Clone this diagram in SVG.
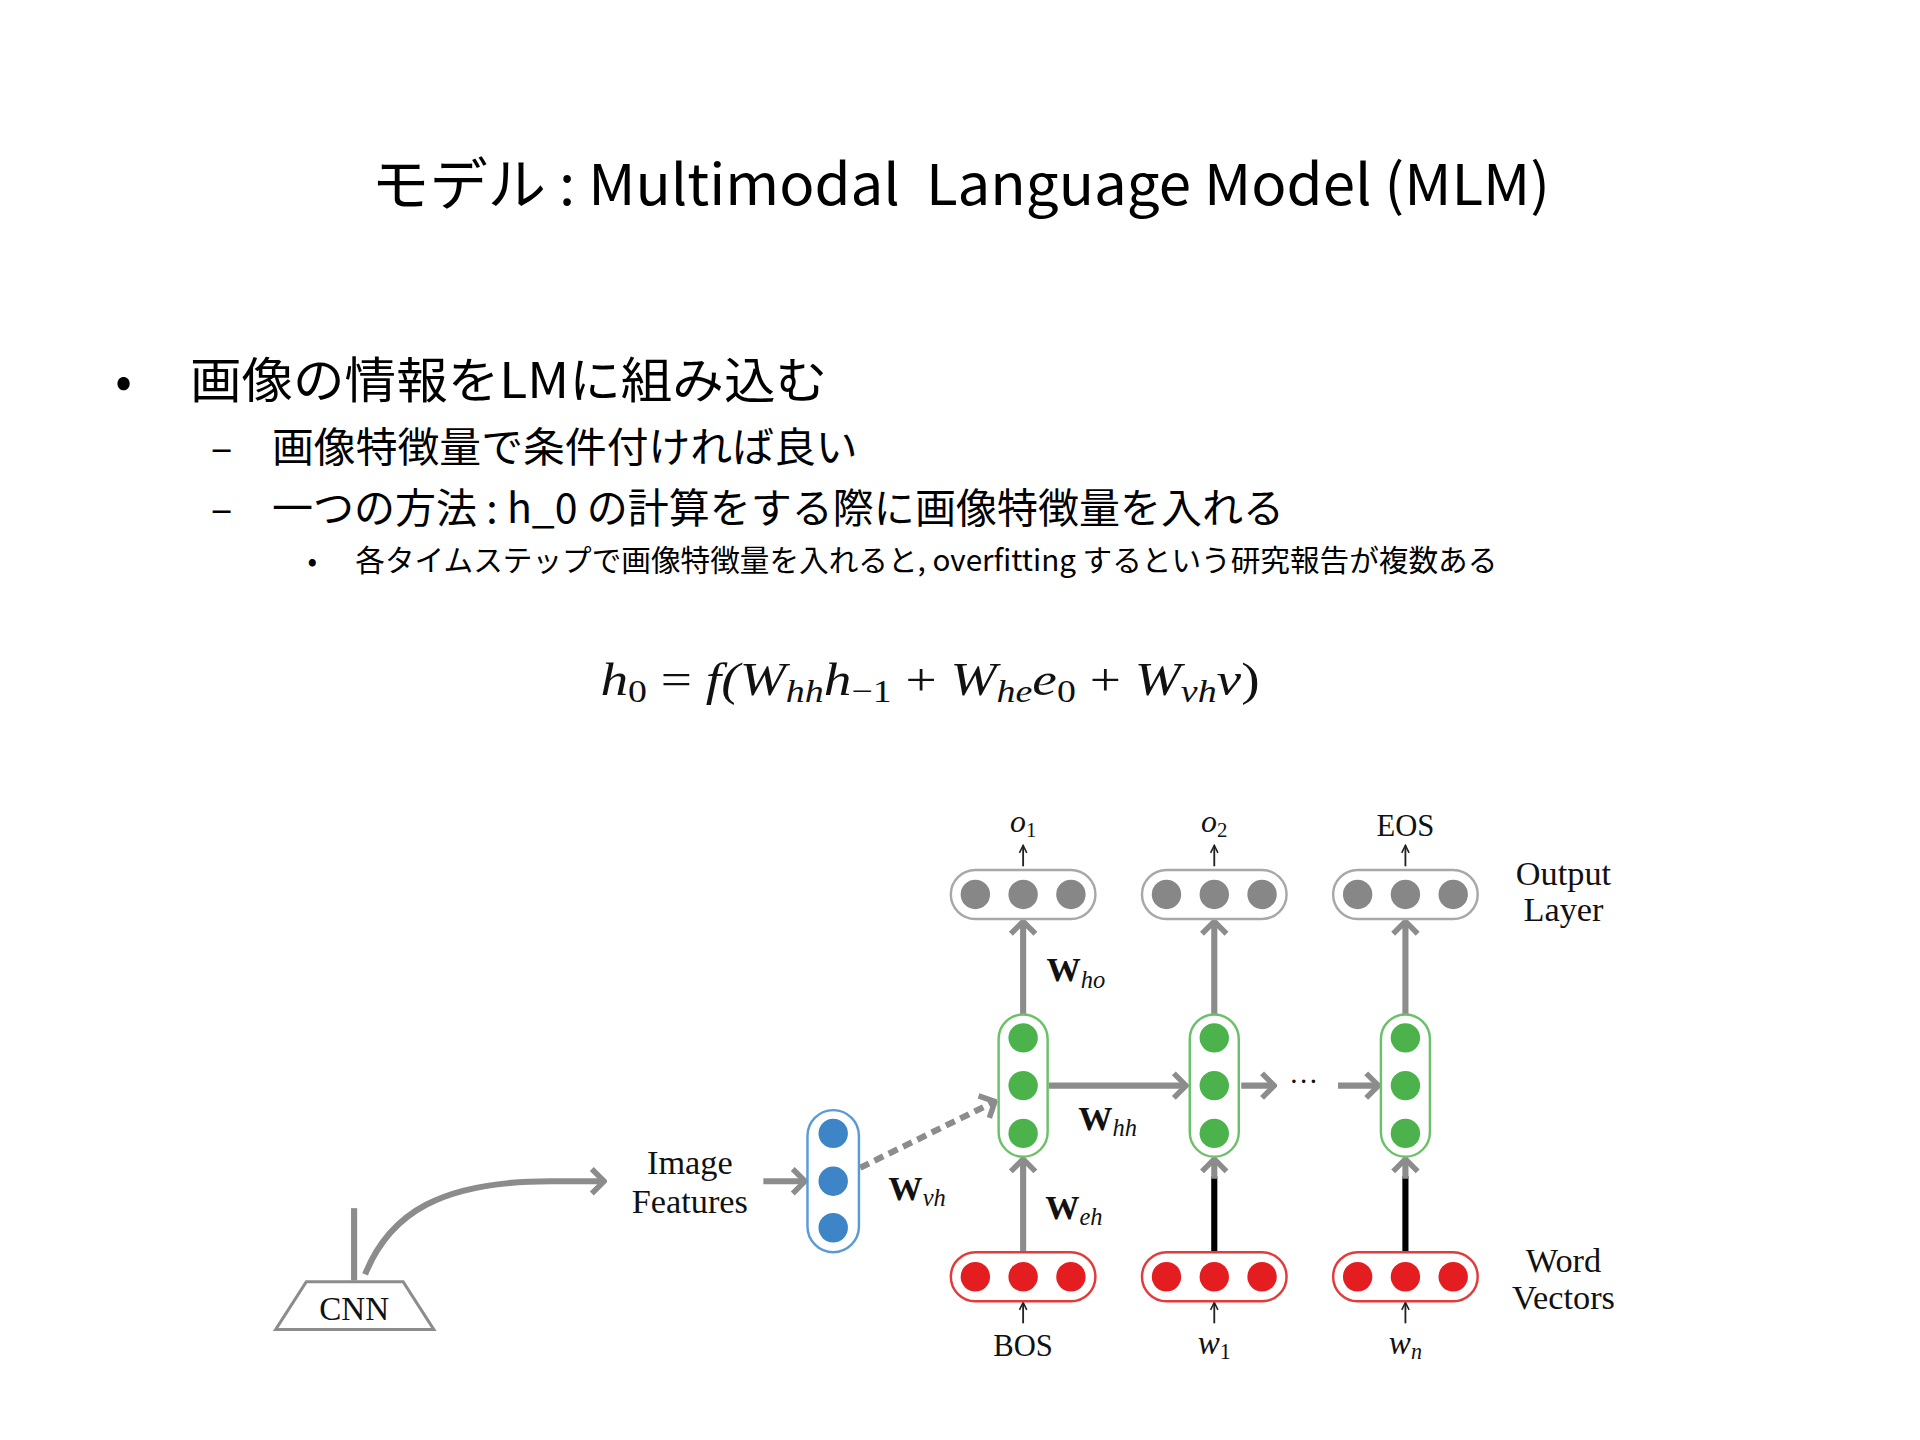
<svg xmlns="http://www.w3.org/2000/svg" width="1920" height="1440" viewBox="0 0 1920 1440">
<style>
.jp{font-family:"Noto Sans CJK JP","Liberation Sans",sans-serif;fill:#000}
.tm{font-family:"Liberation Serif",serif;fill:#111}
.it{font-style:italic}
.bd{font-weight:bold;font-style:normal}
.g{stroke:#8c8c8c;stroke-width:5;fill:none}
.k{stroke:#000;stroke-width:5;fill:none}
.thin{stroke:#222;stroke-width:1.5;fill:none}
.capO{fill:#fff;stroke:#a8a8a8;stroke-width:2}
.capH{fill:#fff;stroke:#6cc06a;stroke-width:2}
.capW{fill:#fff;stroke:#e33b3b;stroke-width:2}
.capV{fill:#fff;stroke:#5b9bd5;stroke-width:2}
.dO{fill:#878787}
.dH{fill:#4cb24c}
.dW{fill:#e41e20}
.dV{fill:#3d85c6}
</style>
<defs>
<marker id="chev" viewBox="0 0 14 24" refX="12" refY="12" markerWidth="14" markerHeight="24" markerUnits="userSpaceOnUse" orient="auto">
<path d="M2,2 L12,12 L2,22" fill="none" stroke="#8c8c8c" stroke-width="4.5" stroke-linejoin="miter"/>
</marker>
<marker id="small" viewBox="0 0 8 8" refX="7" refY="4" markerWidth="8" markerHeight="8" markerUnits="userSpaceOnUse" orient="auto">
<path d="M1,1 L7,4 L1,7" fill="none" stroke="#222" stroke-width="1.3"/>
</marker>
</defs>
<rect width="1920" height="1440" fill="#fff"/>
<g transform="scale(1.2253)">
<g id="title">
<text class="jp" x="303" y="167" font-size="46" textLength="962" lengthAdjust="spacingAndGlyphs" xml:space="preserve">モデル : Multimodal  Language Model (MLM)</text>
</g>
<g id="bullets">
<text class="jp" x="94" y="325" font-size="40">•</text>
<text class="jp" x="155" y="325" font-size="40" textLength="520" lengthAdjust="spacingAndGlyphs">画像の情報をLMに組み込む</text>
<text class="jp" x="172" y="377" font-size="33">–</text>
<text class="jp" x="222" y="377" font-size="33" textLength="478" lengthAdjust="spacingAndGlyphs">画像特徴量で条件付ければ良い</text>
<text class="jp" x="172" y="427" font-size="33">–</text>
<text class="jp" x="222" y="427" font-size="33" textLength="826" lengthAdjust="spacingAndGlyphs">一つの方法 : h_0 の計算をする際に画像特徴量を入れる</text>
<text class="jp" x="251" y="466" font-size="23">•</text>
<text class="jp" x="290" y="466" font-size="24" textLength="932" lengthAdjust="spacingAndGlyphs">各タイムステップで画像特徴量を入れると, overfitting するという研究報告が複数ある</text>
</g>
<g id="formula">
<text class="tm it" x="490" y="567" font-size="38" textLength="538" lengthAdjust="spacingAndGlyphs">h<tspan font-size="26" dy="6" font-style="normal">0</tspan><tspan dy="-6" font-style="normal"> = </tspan>f(W<tspan font-size="26" dy="6">hh</tspan><tspan dy="-6">h</tspan><tspan font-size="26" dy="6" font-style="normal">−1</tspan><tspan dy="-6" font-style="normal"> + </tspan>W<tspan font-size="26" dy="6">he</tspan><tspan dy="-6">e</tspan><tspan font-size="26" dy="6" font-style="normal">0</tspan><tspan dy="-6" font-style="normal"> + </tspan>W<tspan font-size="26" dy="6">vh</tspan><tspan dy="-6">v</tspan><tspan font-style="normal">)</tspan></text>
</g>
<g id="connectors">
<path class="g" d="M835,828 L835,752" marker-end="url(#chev)"/>
<path class="g" d="M991,828 L991,752" marker-end="url(#chev)"/>
<path class="g" d="M1147,828 L1147,752" marker-end="url(#chev)"/>
<path class="g" d="M835,1022 L835,946" marker-end="url(#chev)"/>
<path class="k" d="M991,1022 L991,960"/>
<path class="g" d="M991,962 L991,946" marker-end="url(#chev)"/>
<path class="k" d="M1147,1022 L1147,960"/>
<path class="g" d="M1147,962 L1147,946" marker-end="url(#chev)"/>
<path class="g" d="M856,886 L968,886" marker-end="url(#chev)"/>
<path class="g" d="M1013,886 L1040,886" marker-end="url(#chev)"/>
<path class="g" d="M1092,886 L1125,886" marker-end="url(#chev)"/>
<path class="g" d="M623,964 L657,964" marker-end="url(#chev)"/>
<path class="g" d="M702,953 L812,899" stroke-dasharray="8,5" marker-end="url(#chev)"/>
<path class="g" d="M298,1040 C318,990 360,964 450,964 L493,964" marker-end="url(#chev)"/>
<path class="g" d="M289,986 L289,1045" stroke-width="4"/>
<path class="thin" d="M835,707 L835,690" marker-end="url(#small)"/>
<path class="thin" d="M991,707 L991,690" marker-end="url(#small)"/>
<path class="thin" d="M1147,707 L1147,690" marker-end="url(#small)"/>
<path class="thin" d="M835,1080 L835,1063" marker-end="url(#small)"/>
<path class="thin" d="M991,1080 L991,1063" marker-end="url(#small)"/>
<path class="thin" d="M1147,1080 L1147,1063" marker-end="url(#small)"/>
</g>
<g id="output1"><rect class="capO" x="776" y="710" width="118" height="40" rx="20"/><circle class="dO" cx="796" cy="730" r="12"/><circle class="dO" cx="835" cy="730" r="12"/><circle class="dO" cx="874" cy="730" r="12"/></g>
<g id="output2"><rect class="capO" x="932" y="710" width="118" height="40" rx="20"/><circle class="dO" cx="952" cy="730" r="12"/><circle class="dO" cx="991" cy="730" r="12"/><circle class="dO" cx="1030" cy="730" r="12"/></g>
<g id="output3"><rect class="capO" x="1088" y="710" width="118" height="40" rx="20"/><circle class="dO" cx="1108" cy="730" r="12"/><circle class="dO" cx="1147" cy="730" r="12"/><circle class="dO" cx="1186" cy="730" r="12"/></g>
<g id="hidden1"><rect class="capH" x="815" y="828" width="40" height="116" rx="20"/><circle class="dH" cx="835" cy="847" r="12"/><circle class="dH" cx="835" cy="886" r="12"/><circle class="dH" cx="835" cy="925" r="12"/></g>
<g id="hidden2"><rect class="capH" x="971" y="828" width="40" height="116" rx="20"/><circle class="dH" cx="991" cy="847" r="12"/><circle class="dH" cx="991" cy="886" r="12"/><circle class="dH" cx="991" cy="925" r="12"/></g>
<g id="hidden3"><rect class="capH" x="1127" y="828" width="40" height="116" rx="20"/><circle class="dH" cx="1147" cy="847" r="12"/><circle class="dH" cx="1147" cy="886" r="12"/><circle class="dH" cx="1147" cy="925" r="12"/></g>
<g id="word1"><rect class="capW" x="776" y="1022" width="118" height="40" rx="20"/><circle class="dW" cx="796" cy="1042" r="12"/><circle class="dW" cx="835" cy="1042" r="12"/><circle class="dW" cx="874" cy="1042" r="12"/></g>
<g id="word2"><rect class="capW" x="932" y="1022" width="118" height="40" rx="20"/><circle class="dW" cx="952" cy="1042" r="12"/><circle class="dW" cx="991" cy="1042" r="12"/><circle class="dW" cx="1030" cy="1042" r="12"/></g>
<g id="word3"><rect class="capW" x="1088" y="1022" width="118" height="40" rx="20"/><circle class="dW" cx="1108" cy="1042" r="12"/><circle class="dW" cx="1147" cy="1042" r="12"/><circle class="dW" cx="1186" cy="1042" r="12"/></g>
<g id="imagevec"><rect class="capV" x="659" y="906" width="42" height="116" rx="21"/><circle class="dV" cx="680" cy="925" r="12"/><circle class="dV" cx="680" cy="964" r="12"/><circle class="dV" cx="680" cy="1002" r="12"/></g>
<g id="cnn"><path d="M250,1046 L329,1046 L354,1085 L225,1085 Z" fill="#fff" stroke="#8c8c8c" stroke-width="2.5"/><text class="tm" x="289" y="1077" font-size="27" text-anchor="middle">CNN</text></g>
<g id="labels">
<text class="tm it" x="835" y="679" font-size="26" text-anchor="middle">o<tspan font-size="17" dy="4" font-style="normal">1</tspan></text>
<text class="tm it" x="991" y="679" font-size="26" text-anchor="middle">o<tspan font-size="17" dy="4" font-style="normal">2</tspan></text>
<text class="tm" x="1147" y="682" font-size="25" text-anchor="middle">EOS</text>
<text class="tm" x="1276" y="722" font-size="28" text-anchor="middle">Output</text>
<text class="tm" x="1276" y="752" font-size="28" text-anchor="middle">Layer</text>
<text class="tm" x="1276" y="1038" font-size="28" text-anchor="middle">Word</text>
<text class="tm" x="1276" y="1068" font-size="28" text-anchor="middle">Vectors</text>
<text class="tm" x="835" y="1107" font-size="25" text-anchor="middle">BOS</text>
<text class="tm it" x="991" y="1105" font-size="27" text-anchor="middle">w<tspan font-size="18" dy="4" font-style="normal">1</tspan></text>
<text class="tm it" x="1147" y="1105" font-size="27" text-anchor="middle">w<tspan font-size="18" dy="4">n</tspan></text>
<text class="tm" x="563" y="958" font-size="28" text-anchor="middle">Image</text>
<text class="tm" x="563" y="990" font-size="28" text-anchor="middle">Features</text>
<text class="tm" x="1064" y="890" font-size="24" text-anchor="middle">···</text>
<text class="tm bd" x="854" y="801" font-size="28">W<tspan font-weight="normal" font-style="italic" font-size="20" dy="5">ho</tspan></text>
<text class="tm bd" x="880" y="922" font-size="28">W<tspan font-weight="normal" font-style="italic" font-size="20" dy="5">hh</tspan></text>
<text class="tm bd" x="853" y="995" font-size="28">W<tspan font-weight="normal" font-style="italic" font-size="20" dy="5">eh</tspan></text>
<text class="tm bd" x="725" y="979" font-size="28">W<tspan font-weight="normal" font-style="italic" font-size="20" dy="5">vh</tspan></text>
</g>
</g>
</svg>
